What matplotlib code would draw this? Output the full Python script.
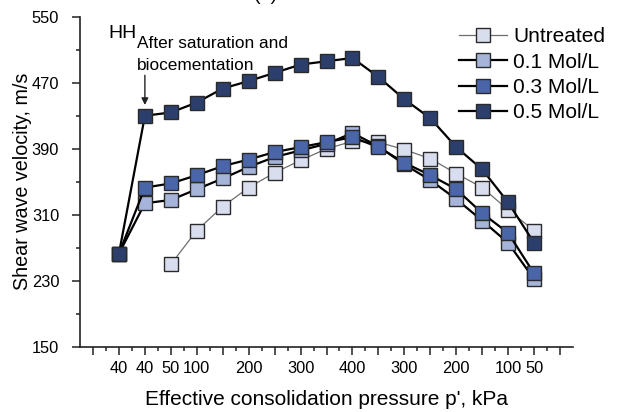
import matplotlib
matplotlib.use("Agg")
import matplotlib.pyplot as plt
from matplotlib.ticker import FixedLocator
import numpy as np

plt.rcParams['font.family'] = ['Liberation Sans', 'DejaVu Sans']

# Loading / unloading path: position index along the stress path
stage_index = list(range(17))
tick_positions = [0, 1, 2, 3, 5, 7, 9, 11, 13, 15, 16]
tick_labels = ["40", "40", "50", "100", "200", "300", "400", "300", "200", "100", "50"]
y_ticks = [150, 230, 310, 390, 470, 550]

# Shear wave velocity (m/s) for each treatment
untreated_idx = list(range(2, 17))
untreated = [250, 291, 320, 343, 361, 376, 390, 399, 398, 389, 378, 360, 343, 316, 291]
mol_01 = [263, 324, 328, 341, 354, 368, 380, 388, 396, 409, 393, 371, 352, 329, 303, 276, 232]
mol_03 = [263, 343, 348, 358, 369, 377, 386, 392, 398, 404, 392, 373, 358, 341, 312, 288, 239]
mol_05 = [263, 430, 434, 446, 463, 472, 482, 492, 496, 500, 477, 450, 427, 392, 365, 325, 276]

fig = plt.figure(figsize=(6.17, 4.12), dpi=100)
ax = fig.add_axes([0.1297, 0.158, 0.799, 0.8015])

edge = "#2a2a2a"
ms = 9.6
ax.plot(untreated_idx, untreated, '-s', color="#6e6e6e", lw=0.9, ms=ms,
        mfc="#d9deef", mec=edge, mew=1.0, label="Untreated", zorder=3)
ax.plot(stage_index, mol_01, '-s', color="black", lw=1.6, ms=ms,
        mfc="#a6b4da", mec=edge, mew=1.0, label="0.1 Mol/L", zorder=4)
ax.plot(stage_index, mol_03, '-s', color="black", lw=1.6, ms=ms,
        mfc="#4a65a8", mec=edge, mew=1.0, label="0.3 Mol/L", zorder=5)
ax.plot(stage_index, mol_05, '-s', color="black", lw=1.6, ms=ms,
        mfc="#2c3f6c", mec=edge, mew=1.0, label="0.5 Mol/L", zorder=6)

ax.set_xlim(-1.5, 17.5)
ax.set_ylim(150, 550)
ax.spines['top'].set_visible(False)
ax.spines['right'].set_visible(False)
for s in ('left', 'bottom'):
    ax.spines[s].set_linewidth(1.2)
    ax.spines[s].set_color("#222222")

ax.xaxis.set_major_locator(FixedLocator(list(range(-1, 18))))
ax.xaxis.set_minor_locator(FixedLocator([i + 0.5 for i in range(-1, 17)]))
label_map = dict(zip(tick_positions, tick_labels))
ax.set_xticklabels([label_map.get(i, "") for i in range(-1, 18)])
ax.yaxis.set_major_locator(FixedLocator(y_ticks))
ax.yaxis.set_minor_locator(FixedLocator([v + 40 for v in y_ticks[:-1]]))
ax.tick_params(axis='both', which='major', direction='out', length=6, width=1.1,
               labelsize=11.8, color="#222222")
ax.tick_params(axis='both', which='minor', direction='out', length=3, width=1.1,
               color="#222222")
ax.tick_params(axis='x', pad=4)
ax.tick_params(axis='y', pad=9)

ax.set_xlabel("Effective consolidation pressure p', kPa", fontsize=15, labelpad=10)
ax.set_ylabel("Shear wave velocity, m/s", fontsize=14.2, labelpad=0)

ax.text(0.057, 0.975, "HH", transform=ax.transAxes, fontsize=14,
        ha='left', va='top')
ax.text(0.115, 0.94, "After saturation and\nbiocementation", transform=ax.transAxes,
        fontsize=12.4, ha='left', va='top', linespacing=1.55)
ax.annotate("", xy=(1, 443), xytext=(1, 479),
            arrowprops=dict(arrowstyle="-|>", color="#222222", lw=1.0,
                            mutation_scale=10, shrinkA=0, shrinkB=0))

leg = ax.legend(loc='upper left', bbox_to_anchor=(0.752, 0.993), frameon=False,
                fontsize=15, handlelength=2.3, handletextpad=0.3,
                labelspacing=0.3, borderaxespad=0.0)

fig.text(0.431, 0.999, "(a)", fontsize=14, ha='center', va='baseline')

fig.savefig("out.png", dpi=100)
